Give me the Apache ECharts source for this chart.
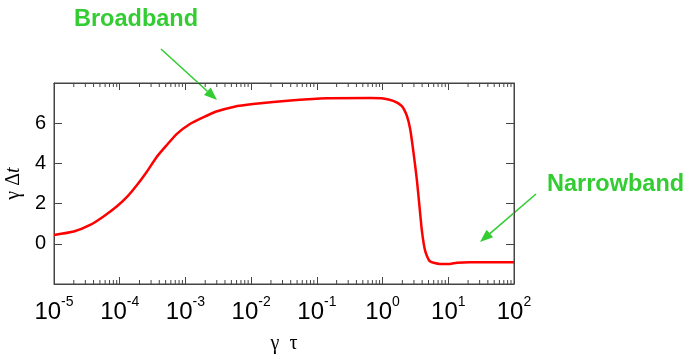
<!DOCTYPE html>
<html style="height: 100%">
<head>
<meta charset="utf-8" />
<title>gamma dt vs gamma tau</title>
<script type="text/javascript" src="https://cdn.jsdelivr.net/npm/echarts@6/dist/echarts.min.js"></script>
<style>
  html, body { margin: 0; padding: 0; background: #fff; }
  #container { width: 690px; height: 354px; }
</style>
</head>
<body>
<div id="container"></div>
<script type="text/javascript">
// gamma*tau values (log axis) and gamma*Delta t
var tauValues = [1e-5, 2.0e-5, 3.55e-5, 5.6e-5, 8.9e-5, 1.29e-4, 1.82e-4, 2.57e-4, 3.63e-4, 5.13e-4,
                 7.41e-4, 1.17e-3, 1.86e-3, 2.95e-3, 5.37e-3, 1.07e-2, 4.4e-2, 0.14, 0.65, 1.02,
                 1.45, 1.95, 2.34, 2.63, 2.95, 3.31, 3.63, 3.98, 4.47, 5.25,
                 7.41, 10.5, 13.5, 21.4, 100];
var dtValues = [0.44, 0.61, 0.94, 1.35, 1.84, 2.33, 2.91, 3.57, 4.31, 4.89,
                5.47, 5.96, 6.29, 6.58, 6.81, 6.95, 7.14, 7.24, 7.25, 7.23,
                7.11, 6.86, 6.37, 5.71, 4.56, 3.24, 1.93, 0.61, -0.38, -0.87,
                -1.0, -1.0, -0.94, -0.92, -0.92];
var yTickLabels = ['0', '2', '4', '6'];
var xMin = 1e-5, xMax = 100;

// minor tick positions 2..9 x 10^n
var minorTicks = [];
for (var n = -5; n < 2; n++) {
    for (var k = 2; k <= 9; k++) {
        minorTicks.push([k * Math.pow(10, n), -2]);
    }
}

var green = '#33CC33';

function arrow(x1, y1, x2, y2) {
    var dx = x2 - x1, dy = y2 - y1;
    var len = Math.sqrt(dx * dx + dy * dy);
    var ux = dx / len, uy = dy / len;
    var hl = 13, hw = 5;
    var bx = x2 - ux * hl, by = y2 - uy * hl;
    return [
        { type: 'line', shape: { x1: x1, y1: y1, x2: bx, y2: by },
          style: { stroke: green, lineWidth: 1.6 } },
        { type: 'polygon', shape: { points: [[x2, y2], [bx - uy * hw, by + ux * hw], [bx + uy * hw, by - ux * hw]] },
          style: { fill: green } }
    ];
}

var series = [];
for (var i = 0; i < tauValues.length; i++) {
    series.push([tauValues[i], dtValues[i]]);
}

var myChart = echarts.init(document.getElementById('container'));
var axisColor = '#444';
var serif = 'Liberation Serif, Times New Roman, serif';
var option = {
    animation: false,
    grid: { left: 54, top: 83, width: 460, height: 201, outerBoundsMode: 'none', containLabel: false,
            show: true, borderColor: axisColor, borderWidth: 1 },
    xAxis: [{
        type: 'log', logBase: 10, min: xMin, max: xMax,
        position: 'bottom',
        name: 'γ  τ', nameLocation: 'middle', nameGap: 48,
        nameTextStyle: { fontFamily: serif, fontSize: 20, color: '#000' },
        axisLine: { onZero: false, lineStyle: { color: axisColor } },
        axisTick: { inside: true, length: 7, lineStyle: { color: axisColor } },
        splitLine: { show: false },
        axisLabel: {
            margin: 13,
            formatter: function (v) {
                var e = Math.round(Math.log(v) / Math.LN10);
                return '{b|10}{s|' + e + '}';
            },
            rich: {
                b: { fontFamily: 'Liberation Sans, Arial', fontSize: 24, color: '#000', lineHeight: 30 },
                s: { fontFamily: 'Liberation Sans, Arial', fontSize: 14, color: '#000', lineHeight: 14, padding: [0, 0, 20, 0] }
            }
        }
    }, {
        type: 'log', logBase: 10, min: xMin, max: xMax,
        position: 'top',
        axisLine: { onZero: false, lineStyle: { color: axisColor } },
        axisTick: { inside: true, length: 7, lineStyle: { color: axisColor } },
        axisLabel: { show: false },
        splitLine: { show: false }
    }],
    yAxis: [{
        type: 'value', min: -2, max: 8, interval: 2,
        name: '{a|γ Δ}{i|t}', nameLocation: 'middle', nameGap: 28, nameRotate: 90,
        nameTextStyle: {
            rich: {
                a: { fontFamily: serif, fontSize: 20, color: '#000' },
                i: { fontFamily: serif, fontSize: 20, fontStyle: 'italic', color: '#000' }
            }
        },
        axisLine: { show: true, onZero: false, lineStyle: { color: axisColor } },
        axisTick: { show: true, inside: true, length: 8, lineStyle: { color: axisColor } },
        splitLine: { show: false },
        axisLabel: {
            margin: 8,
            fontFamily: 'Liberation Sans, Arial', fontSize: 20, color: '#000',
            formatter: function (v) {
                var s = String(v);
                return yTickLabels.indexOf(s) >= 0 ? s : '';
            }
        }
    }, {
        type: 'value', min: -2, max: 8, interval: 2,
        position: 'right',
        axisLine: { show: true, onZero: false, lineStyle: { color: axisColor } },
        axisTick: { show: true, inside: true, length: 8, lineStyle: { color: axisColor } },
        axisLabel: { show: false },
        splitLine: { show: false }
    }],
    series: [{
        type: 'custom',
        xAxisIndex: 0, yAxisIndex: 0,
        silent: true,
        clip: false,
        data: minorTicks,
        renderItem: function (params, api) {
            var b = api.coord([api.value(0), -2]);
            var t = api.coord([api.value(0), 8]);
            return {
                type: 'group',
                children: [
                    { type: 'line', shape: { x1: b[0], y1: b[1], x2: b[0], y2: b[1] - 4 }, style: { stroke: axisColor, lineWidth: 1 } },
                    { type: 'line', shape: { x1: t[0], y1: t[1], x2: t[0], y2: t[1] + 4 }, style: { stroke: axisColor, lineWidth: 1 } }
                ]
            };
        }
    }, {
        type: 'line',
        xAxisIndex: 0, yAxisIndex: 0,
        data: series,
        showSymbol: false,
        smooth: 0.2,
        lineStyle: { color: '#ff0000', width: 2.5 }
    }],
    graphic: [
        { type: 'text', left: 74, top: 8,
          style: { text: 'Broadband', fill: green, font: 'bold 23.5px Liberation Sans, Arial' } },
        { type: 'text', left: 547, top: 173,
          style: { text: 'Narrowband', fill: green, font: 'bold 23.5px Liberation Sans, Arial' } }
    ].concat(arrow(161, 49, 217, 100)).concat(arrow(536, 194, 480, 242))
};
myChart.setOption(option);
</script>
</body>
</html>
